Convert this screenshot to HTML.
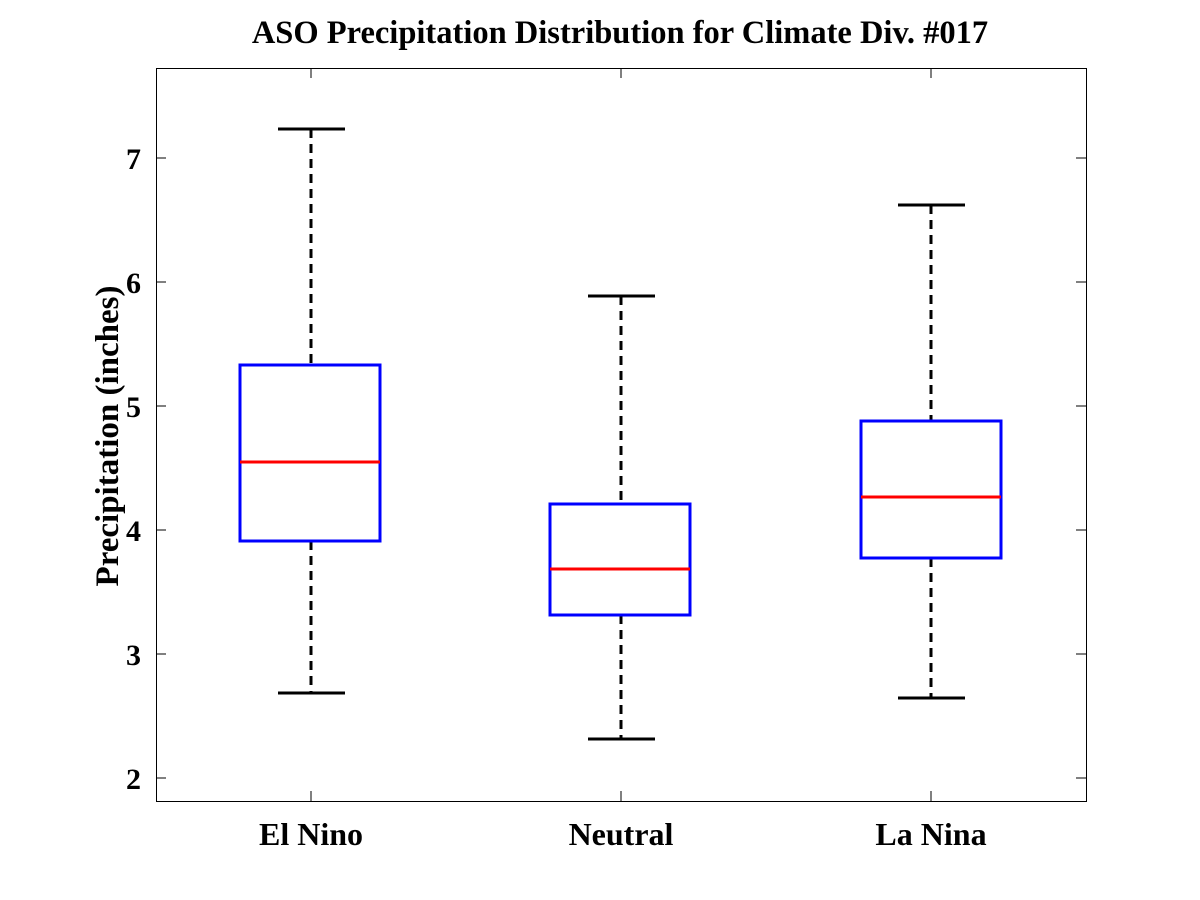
<!DOCTYPE html>
<html><head><meta charset="utf-8"><style>body{margin:0;background:#fff}svg{display:block}</style></head><body>
<svg width="1200" height="900" xmlns="http://www.w3.org/2000/svg" font-family="Liberation Serif, serif" font-weight="bold">
<rect width="1200" height="900" fill="#fff"/>
<text x="620" y="43" font-size="32.5" text-anchor="middle">ASO Precipitation Distribution for Climate Div. #017</text>
<rect x="156.5" y="68.5" width="930" height="733" fill="none" stroke="#000" stroke-width="1"/>
<g stroke="#000" stroke-width="1">
<line x1="156" y1="158" x2="166" y2="158"/><line x1="1086" y1="158" x2="1076" y2="158"/>
<line x1="156" y1="282" x2="166" y2="282"/><line x1="1086" y1="282" x2="1076" y2="282"/>
<line x1="156" y1="406" x2="166" y2="406"/><line x1="1086" y1="406" x2="1076" y2="406"/>
<line x1="156" y1="530" x2="166" y2="530"/><line x1="1086" y1="530" x2="1076" y2="530"/>
<line x1="156" y1="654" x2="166" y2="654"/><line x1="1086" y1="654" x2="1076" y2="654"/>
<line x1="156" y1="778" x2="166" y2="778"/><line x1="1086" y1="778" x2="1076" y2="778"/>
<line x1="311" y1="801" x2="311" y2="791"/><line x1="311" y1="68" x2="311" y2="78"/>
<line x1="621" y1="801" x2="621" y2="791"/><line x1="621" y1="68" x2="621" y2="78"/>
<line x1="931" y1="801" x2="931" y2="791"/><line x1="931" y1="68" x2="931" y2="78"/>
</g>
<g font-size="30" text-anchor="end">
<text x="141" y="169">7</text><text x="141" y="293">6</text><text x="141" y="417">5</text>
<text x="141" y="541">4</text><text x="141" y="665">3</text><text x="141" y="789">2</text>
</g>
<g font-size="32" text-anchor="middle">
<text x="311" y="845">El Nino</text><text x="621" y="845">Neutral</text><text x="931" y="845">La Nina</text>
</g>
<text transform="translate(118,436) rotate(-90)" font-size="33" text-anchor="middle">Precipitation (inches)</text>
<g stroke="#000" stroke-width="3" fill="none">
<line x1="311" y1="129" x2="311" y2="365" stroke-dasharray="9,6"/><line x1="311" y1="541" x2="311" y2="693" stroke-dasharray="9,6"/>
<line x1="278" y1="129" x2="345" y2="129"/><line x1="278" y1="693" x2="345" y2="693"/>
<line x1="621" y1="296" x2="621" y2="504" stroke-dasharray="9,6"/><line x1="621" y1="615" x2="621" y2="739" stroke-dasharray="9,6"/>
<line x1="588" y1="296" x2="655" y2="296"/><line x1="588" y1="739" x2="655" y2="739"/>
<line x1="931" y1="205" x2="931" y2="421" stroke-dasharray="9,6"/><line x1="931" y1="558" x2="931" y2="698" stroke-dasharray="9,6"/>
<line x1="898" y1="205" x2="965" y2="205"/><line x1="898" y1="698" x2="965" y2="698"/>
</g>
<g stroke="#0000ff" stroke-width="3" fill="none">
<rect x="240" y="365" width="140" height="176"/>
<rect x="550" y="504" width="140" height="111"/>
<rect x="861" y="421" width="140" height="137"/>
</g>
<g stroke="#ff0000" stroke-width="3">
<line x1="240" y1="462" x2="380" y2="462"/>
<line x1="550" y1="569" x2="690" y2="569"/>
<line x1="861" y1="497" x2="1001" y2="497"/>
</g>
</svg>
</body></html>
